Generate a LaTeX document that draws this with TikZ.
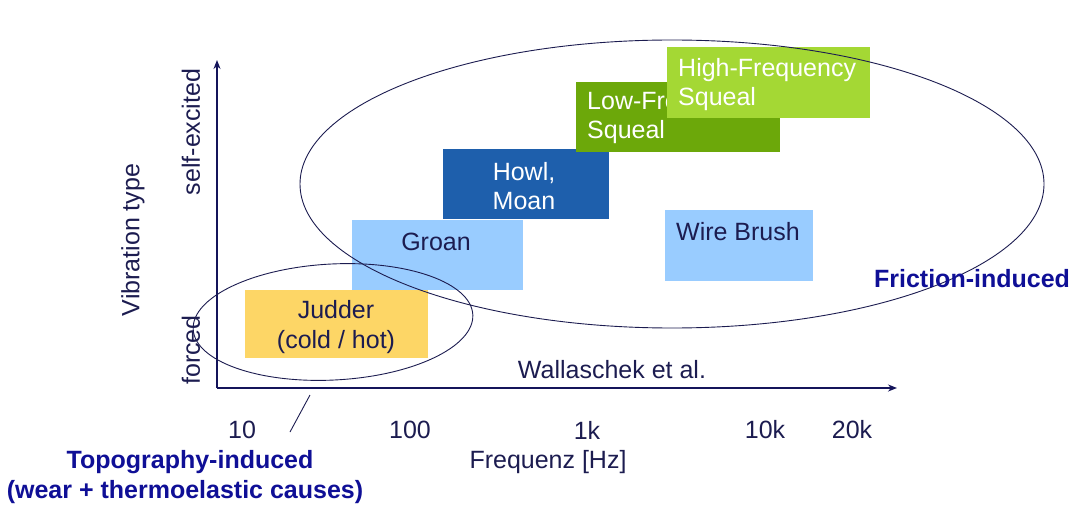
\documentclass[tikz,border=0pt]{standalone}
\usepackage{fontspec}
\setmainfont{Liberation Sans}
\usetikzlibrary{arrows.meta,shapes.geometric}
\definecolor{navy}{RGB}{28,28,80}
\definecolor{axisc}{RGB}{20,20,90}
\definecolor{lblue}{RGB}{15,15,150}
\definecolor{cyellow}{RGB}{253,214,102}
\definecolor{clight}{RGB}{153,204,255}
\definecolor{cdark}{RGB}{30,95,172}
\definecolor{cgreen}{RGB}{108,168,10}
\definecolor{clgreen}{RGB}{164,216,52}
\tikzset{
  box/.style={draw=none, inner sep=0pt, anchor=north west},
  txt/.style={font=\fontsize{25}{30}\selectfont, text=navy, inner sep=0pt, align=center},
  wtxt/.style={font=\fontsize{25}{29}\selectfont, text=white, inner sep=0pt, align=left},
  btxt/.style={font=\fontsize{25}{30}\selectfont\bfseries, text=lblue, inner sep=0pt, align=center},
  axis/.style={draw=axisc, line width=2pt, -{Stealth[length=9pt,width=7pt]}},
  ring/.style={draw=navy, line width=0.9pt, ellipse, inner sep=0pt},
}
\begin{document}
\begin{tikzpicture}[x=1pt,y=1pt]
\useasboundingbox (0,0) rectangle (1075,504);
% boxes
\node[box, fill=clight, minimum width=171, minimum height=70] (groan) at (352,284) {};
\node[box, fill=cyellow, minimum width=183, minimum height=68] (judder) at (245,214) {};
\node[box, fill=cdark, minimum width=166, minimum height=70] (howl) at (443,355) {};
\node[box, fill=cgreen, minimum width=204, minimum height=70] (lowf) at (576,422) {};
\node[wtxt, anchor=north west] (lowft) at (587,412) {Low-Frequency\\Squeal};
\node[box, fill=clgreen, minimum width=203, minimum height=71] (highf) at (667,457) {};
\node[wtxt, anchor=north west] (highft) at (678,446) {High-Frequency\\Squeal};
\node[box, fill=clight, minimum width=148, minimum height=71] (wire) at (665,294) {};
% box texts
\node[txt] (groant) at (436,262) {Groan};
\node[txt] (juddert) at (336,177) {Judder\\(cold / hot)};
\node[wtxt, align=center, text=white] (howlt) at (524,318) {Howl,\\Moan};
\node[txt] (wiret) at (738,272) {Wire Brush};
% axes
\coordinate (O) at (217,116);
\coordinate (ytip) at (217,444);
\coordinate (xtip) at (897,116);
\draw[axis] (O) -- (ytip);
\draw[axis] (O) -- (xtip);
% ellipses
\node[ring, minimum width=744, minimum height=288] (fric) at (672,320) {};
\node[ring, minimum width=280, minimum height=116, rotate=3] (topo) at (333,182) {};
\coordinate (la) at (310,109);
\coordinate (lb) at (290,72);
\draw[draw=navy, line width=0.9pt] (la) -- (lb);
% axis labels
\node[txt, rotate=90] (se) at (191,372) {self-excited};
\node[txt, rotate=90] (fo) at (191,154) {forced};
\node[txt, rotate=90] (vt) at (133,264) {Vibration type};
\node[txt] (t10) at (242,74) {10};
\node[txt] (t100) at (410,74) {100};
\node[txt] (t1k) at (587,74) {1k};
\node[txt] (t10k) at (765,74) {10k};
\node[txt] (t20k) at (852,74) {20k};
\node[txt] (freq) at (548,42) {Frequenz [Hz]};
\node[txt] (wal) at (612,134) {Wallaschek et al.};
\node[btxt] (topol) at (190,42) {Topography-induced};
\node[btxt] (topol2) at (185,12) {(wear + thermoelastic causes)};
\node[btxt] (fricl) at (972,225) {Friction-induced};
\end{tikzpicture}
\end{document}
